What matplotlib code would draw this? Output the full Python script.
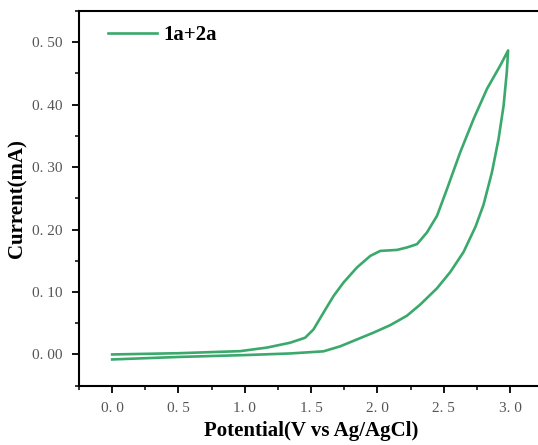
import numpy as np
import matplotlib.pyplot as plt
from matplotlib.ticker import MultipleLocator, FixedLocator, FixedFormatter

# forward scan (0 -> 3 V)
v_fwd = [0.0, 0.5, 0.965, 1.167, 1.342, 1.455, 1.518, 1.593, 1.669, 1.744,
         1.845, 1.946, 2.021, 2.147, 2.222, 2.298, 2.373, 2.449, 2.524, 2.624,
         2.725, 2.826, 2.926, 2.985]
i_fwd = [0.000, 0.002, 0.0053, 0.011, 0.0188, 0.0268, 0.0401, 0.0669, 0.0936, 0.1151,
         0.1392, 0.1578, 0.1658, 0.1674, 0.1713, 0.1766, 0.1953, 0.2220, 0.2648, 0.3238,
         0.3772, 0.4254, 0.4628, 0.4868]

# reverse scan (3 -> 0 V)
v_rev = [2.985, 2.975, 2.951, 2.913, 2.863, 2.80, 2.74, 2.649, 2.549, 2.449,
         2.323, 2.222, 2.097, 1.971, 1.845, 1.719, 1.593, 1.342, 1.0, 0.5, 0.0]
i_rev = [0.4868, 0.452, 0.3986, 0.3451, 0.2917, 0.2400, 0.2050, 0.164, 0.132, 0.106,
         0.080, 0.062, 0.047, 0.035, 0.024, 0.013, 0.005, 0.0016, -0.001, -0.004, -0.008]

x_ticks = [0.0, 0.5, 1.0, 1.5, 2.0, 2.5, 3.0]
x_labels = ["0. 0", "0. 5", "1. 0", "1. 5", "2. 0", "2. 5", "3. 0"]
y_ticks = [0.0, 0.1, 0.2, 0.3, 0.4, 0.5]
y_labels = ["0. 00", "0. 10", "0. 20", "0. 30", "0. 40", "0. 50"]

green = '#3aa96b'
serif = ['Liberation Serif', 'DejaVu Serif']

fig = plt.figure(figsize=(5.38, 4.45), dpi=100)
ax = fig.add_axes([0.1468, 0.1333, 0.863, 0.842])

v = np.array(v_fwd + v_rev)
i = np.array(i_fwd + i_rev)
ax.plot(v, i, '-', color=green, lw=1.9, label='1a+2a',
        solid_joinstyle='round')

ax.set_xlim(-0.25, 3.25)
ax.set_ylim(-0.05, 0.55)

ax.xaxis.set_major_locator(FixedLocator(x_ticks))
ax.xaxis.set_major_formatter(FixedFormatter(x_labels))
ax.yaxis.set_major_locator(FixedLocator(y_ticks))
ax.yaxis.set_major_formatter(FixedFormatter(y_labels))
ax.xaxis.set_minor_locator(MultipleLocator(0.25))
ax.yaxis.set_minor_locator(MultipleLocator(0.05))

ax.tick_params(which='major', direction='out', length=5, width=1.3, colors='black',
               labelcolor='#555555', labelsize=11, pad=7)
ax.tick_params(which='minor', direction='out', length=3, width=1.1)
for lab in ax.get_xticklabels() + ax.get_yticklabels():
    lab.set_family(serif)

for s in ax.spines.values():
    s.set_linewidth(1.5)
ax.spines['right'].set_visible(False)

ax.set_xlabel('Potential(V vs Ag/AgCl)', fontsize=15, fontweight='bold',
              family=serif, labelpad=4)
ax.set_ylabel('Current(mA)', fontsize=15, fontweight='bold', family=serif, labelpad=3)

leg = ax.legend(loc='upper left', frameon=False, handlelength=2.35,
                prop={'family': serif, 'weight': 'bold', 'size': 15},
                bbox_to_anchor=(0.022, 1.012), handletextpad=0.3)

fig.savefig('out.png', dpi=100)
